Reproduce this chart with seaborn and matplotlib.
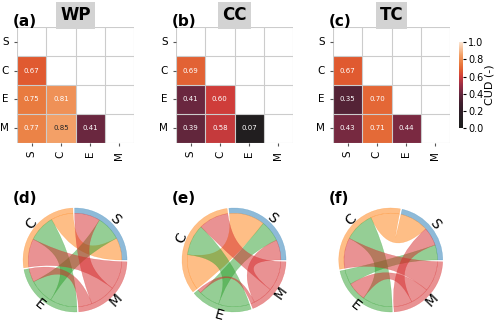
import numpy as np
import pandas as pd
import seaborn as sns
import matplotlib.pyplot as plt
import matplotlib.patches as patches
from matplotlib.path import Path
from matplotlib.colors import LinearSegmentedColormap

# variables and CUD values of the lower triangle, row by row:
# C-S, E-S, E-C, M-S, M-C, M-E
labels = ['S', 'C', 'E', 'M']
cud_wp = [0.67, 0.75, 0.81, 0.77, 0.85, 0.41]
cud_cc = [0.69, 0.41, 0.60, 0.39, 0.58, 0.07]
cud_tc = [0.67, 0.35, 0.70, 0.43, 0.71, 0.44]
titles = ['WP', 'CC', 'TC']
tags_top = ['(a)', '(b)', '(c)']
tags_bottom = ['(d)', '(e)', '(f)']
cbar_ticks = [0.0, 0.2, 0.4, 0.6, 0.8, 1.0]
node_colors = ['#1f77b4', '#ff7f0e', '#2ca02c', '#d62728']

# dark-red-orange colour map of the heatmaps
cud_cmap = LinearSegmentedColormap.from_list('cud', [
    (0.0, '#1c1c1c'), (0.1, '#231f21'), (0.2, '#2f1e27'), (0.3, '#421f2e'),
    (0.4, '#66273e'), (0.5, '#9a2d45'), (0.6, '#cf3d3a'), (0.67, '#e05a30'),
    (0.75, '#e97a3e'), (0.85, '#f3a066'), (1.0, '#fbe6d4')])

LW = 0.3


def to_matrix(vals):
    m = np.zeros((4, 4))
    m[np.tril_indices(4, -1)] = vals
    return m + m.T


def polar2xy(r, theta):
    return np.array([r * np.cos(theta), r * np.sin(theta)])


def ideogram_arc(ax, start, end, radius=1.0, width=0.1, color=(1, 0, 0)):
    start, end = np.radians(start), np.radians(end)
    opt = 4. / 3. * np.tan((end - start) / 4.) * radius
    inner = radius * (1 - width)
    verts = [polar2xy(radius, start),
             polar2xy(radius, start) + polar2xy(opt, start + 0.5 * np.pi),
             polar2xy(radius, end) + polar2xy(opt, end - 0.5 * np.pi),
             polar2xy(radius, end),
             polar2xy(inner, end),
             polar2xy(inner, end) + polar2xy(opt * (1 - width), end - 0.5 * np.pi),
             polar2xy(inner, start) + polar2xy(opt * (1 - width), start + 0.5 * np.pi),
             polar2xy(inner, start),
             polar2xy(radius, start)]
    codes = [Path.MOVETO] + [Path.CURVE4] * 3 + [Path.LINETO] + [Path.CURVE4] * 3 + [Path.CLOSEPOLY]
    ax.add_patch(patches.PathPatch(Path(verts, codes), facecolor=color + (0.5,),
                                   edgecolor=color + (0.4,), lw=LW))


def chord_arc(ax, start1, end1, start2, end2, radius=1.0, chordwidth=0.7, color=(1, 0, 0)):
    start1, end1, start2, end2 = np.radians([start1, end1, start2, end2])
    opt1 = 4. / 3. * np.tan((end1 - start1) / 4.) * radius
    opt2 = 4. / 3. * np.tan((end2 - start2) / 4.) * radius
    rchord = radius * (1 - chordwidth)
    verts = [polar2xy(radius, start1),
             polar2xy(radius, start1) + polar2xy(opt1, start1 + 0.5 * np.pi),
             polar2xy(radius, end1) + polar2xy(opt1, end1 - 0.5 * np.pi),
             polar2xy(radius, end1),
             polar2xy(rchord, end1),
             polar2xy(rchord, start2),
             polar2xy(radius, start2),
             polar2xy(radius, start2) + polar2xy(opt2, start2 + 0.5 * np.pi),
             polar2xy(radius, end2) + polar2xy(opt2, end2 - 0.5 * np.pi),
             polar2xy(radius, end2),
             polar2xy(rchord, end2),
             polar2xy(rchord, start1),
             polar2xy(radius, start1)]
    codes = [Path.MOVETO] + [Path.CURVE4] * 12
    ax.add_patch(patches.PathPatch(Path(verts, codes), facecolor=color + (0.5,),
                                   edgecolor=color + (0.4,), lw=LW))


def chord_diagram(ax, X, names, colors, width=0.1, pad=2, chordwidth=0.7):
    colors = [tuple(int(c[i:i + 2], 16) / 256.0 for i in (1, 3, 5)) for c in colors]
    x = X.sum(axis=1)
    y = x / x.sum() * (360 - pad * len(x))
    pos = {}
    arcs = []
    start = 0
    for i in range(len(x)):
        end = start + y[i]
        arcs.append((start, end))
        angle = 0.5 * (start + end)
        rot = angle - 90 if -30 <= angle <= 210 else angle - 270
        tx, ty = polar2xy(1.1, np.radians(angle))
        ax.text(tx, ty, names[i], rotation=rot, ha='center', va='center', fontsize=10)
        z = X[i, :] / x[i] * (end - start)
        z0 = start
        for j in np.argsort(z):
            pos[(i, j)] = (z0, z0 + z[j])
            z0 += z[j]
        start = end + pad
    for i in range(len(x)):
        ideogram_arc(ax, *arcs[i], width=width, color=colors[i])
        for j in range(i):
            chord_arc(ax, *pos[(i, j)], *pos[(j, i)], radius=1. - width,
                      chordwidth=chordwidth, color=colors[i])
    ax.set_xlim(-1.1, 1.1)
    ax.set_ylim(-1.1, 1.1)
    ax.set_aspect('equal')
    ax.axis('off')


fig = plt.figure(figsize=(5, 3.25), dpi=100)

heat_lefts = [0.034, 0.352, 0.666]
chord_lefts = [0.0356, 0.3536, 0.667]
cax = fig.add_axes([0.918, 0.605, 0.007, 0.266])

for k, vals in enumerate([cud_wp, cud_cc, cud_tc]):
    mat = to_matrix(vals)
    df = pd.DataFrame(mat, index=labels, columns=labels)
    mask = np.triu(np.ones_like(mat, dtype=bool))

    ax = fig.add_axes([heat_lefts[k], 0.5615, 0.234, 0.354])
    sns.heatmap(df, mask=mask, cmap=cud_cmap, vmin=0, vmax=1, annot=True, fmt='.2f',
                annot_kws={'size': 5}, ax=ax, cbar=(k == 2),
                cbar_ax=cax if k == 2 else None,
                cbar_kws={'label': 'CUD (-)', 'ticks': cbar_ticks, 'format': '%.1f'})
    ax.set_xticks(np.arange(5), minor=True)
    ax.set_yticks(np.arange(5), minor=True)
    ax.grid(which='minor', color='#cccccc', lw=0.8)
    ax.tick_params(which='minor', length=0)
    ax.tick_params(which='major', labelsize=7.5, length=2.5, color='#555555')
    ax.set_xticklabels(labels, rotation=90)
    ax.set_yticklabels(labels, rotation=0)
    ax.text(0.5, 1.104, titles[k], transform=ax.transAxes, ha='center', va='center',
            fontsize=12, fontweight='bold',
            bbox=dict(facecolor='#d3d3d3', edgecolor='none', boxstyle='square,pad=0.25'))
    fig.text(heat_lefts[k] - 0.008, 0.935, tags_top[k], fontsize=11, fontweight='bold',
             ha='left', va='center')

    cax_ = fig.add_axes([chord_lefts[k], 0.024, 0.229, 0.352])
    chord_diagram(cax_, mat, labels, node_colors)
    fig.text(chord_lefts[k] - 0.01, 0.39, tags_bottom[k], fontsize=11, fontweight='bold',
             ha='left', va='center')

cax.tick_params(labelsize=7, length=2.5, pad=1.5)
cax.set_ylabel('CUD (-)', fontsize=8, labelpad=1)

fig.savefig('out.png', dpi=100)
